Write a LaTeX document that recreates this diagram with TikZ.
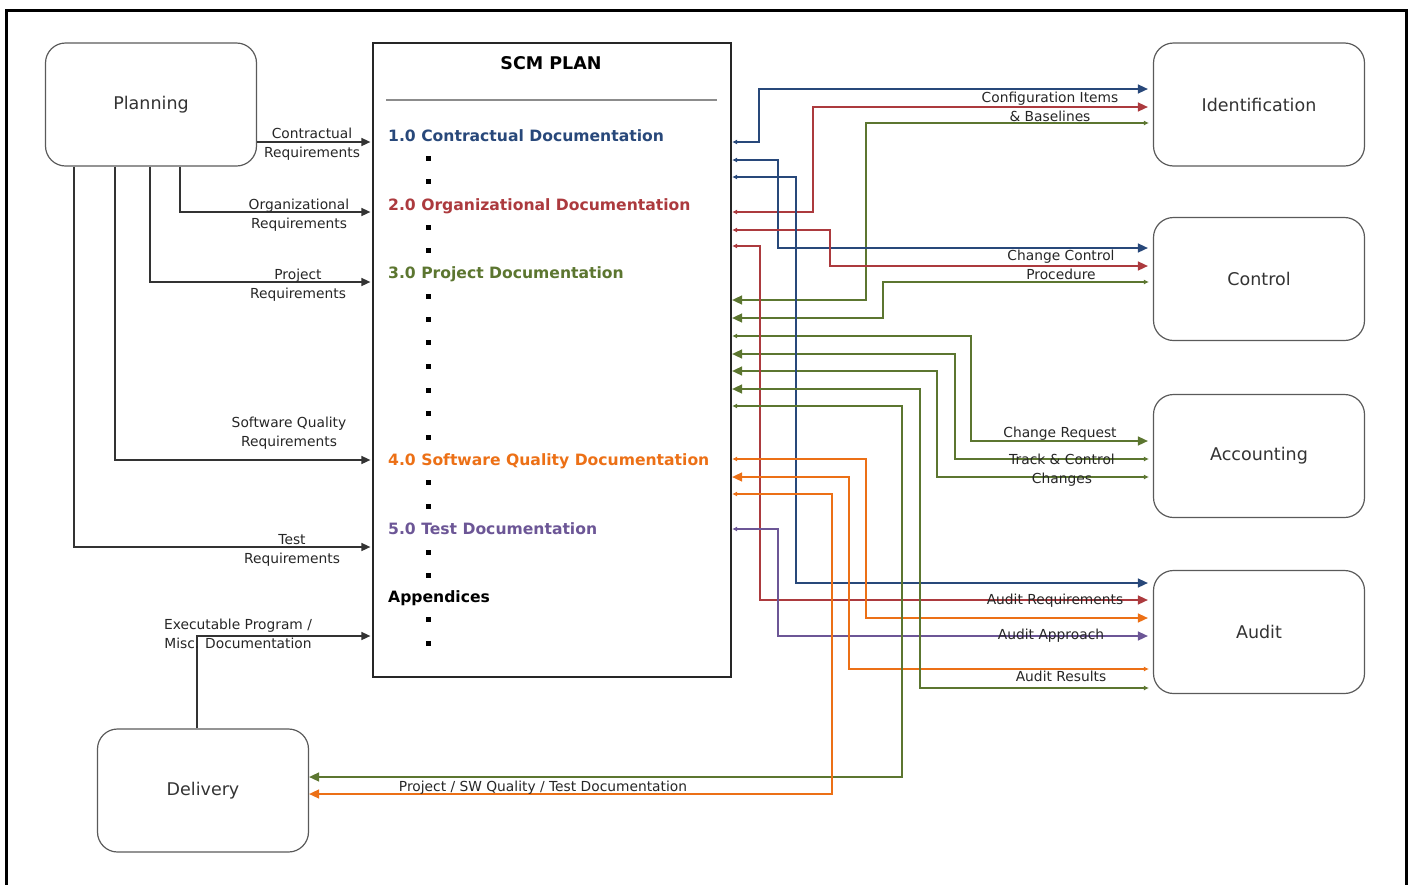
\documentclass[tikz,border=0pt]{standalone}
\usepackage{fontspec}
\setmainfont{DejaVu Sans}
\usetikzlibrary{arrows.meta}

\definecolor{docblue}{RGB}{40,72,122}
\definecolor{docred}{RGB}{172,58,62}
\definecolor{docgreen}{RGB}{92,118,48}
\definecolor{docorange}{RGB}{236,112,22}
\definecolor{docpurple}{RGB}{108,86,150}
\definecolor{boxline}{RGB}{90,90,90}

\tikzset{
  stage/.style={draw=boxline, line width=1.2pt, rounded corners=20pt,
                minimum width=211pt, minimum height=123pt,
                font=\fontsize{17.5}{20}\selectfont, text=black!80},
  flow/.style={line width=1.5pt},
  fwd/.style={arrows={Latex[length=5pt,width=5pt]-Triangle[length=10pt,width=9pt]}},
  back/.style={arrows={Triangle[length=10pt,width=9pt]-Latex[length=5pt,width=5pt]}},
  req/.style={draw=black!80, line width=1.5pt, -{Triangle[length=9pt,width=8pt]},
              shorten >=1.5pt},
  lbl/.style={font=\fontsize{13.8}{19}\selectfont, align=center, text=black!85,
              inner sep=0pt},
  head/.style={font=\fontsize{15.6}{18}\selectfont\bfseries, anchor=mid west,
               inner sep=0pt}
}

\begin{document}
\begin{tikzpicture}[x=1pt,y=-1pt]
    \useasboundingbox (0,0) rectangle (1409,884);
    \draw[line width=3pt] (6,890) -- (6,10) -- (1406,10) -- (1406,890);

    % boxes
    \node[stage] (plan) at (151,104.5) {Planning};
    \node[draw=black!85, line width=2.2pt, minimum width=358pt,
          minimum height=634pt] (scm) at (552,360) {};
    \node[stage] (ident) at (1259,104.5) {Identification};
    \node[stage] (ctrl) at (1259,279) {Control};
    \node[stage] (acct) at (1259,456) {Accounting};
    \node[stage] (audit) at (1259,632) {Audit};
    \node[stage] (deliv) at (203,790.5) {Delivery};

    % contents of the plan
    \node[font=\fontsize{17.5}{20}\selectfont\bfseries, anchor=mid] (title) at (551,67) {SCM PLAN};
    \draw[black!45, line width=2pt] (386,100) -- (717,100);
    \node[head, text=docblue] (sec1) at (388,139) {1.0 Contractual Documentation};
    \node[head, text=docred] (sec2) at (388,208) {2.0 Organizational Documentation};
    \node[head, text=docgreen] (sec3) at (388,276) {3.0 Project Documentation};
    \node[head, text=docorange] (sec4) at (388,463) {4.0 Software Quality Documentation};
    \node[head, text=docpurple] (sec5) at (388,532) {5.0 Test Documentation};
    \node[head] (appx) at (388,600) {Appendices};

    \fill (425.5,155.5) rectangle +(5,5);  \fill (425.5,178.5) rectangle +(5,5);
    \fill (425.5,224.5) rectangle +(5,5);  \fill (425.5,247.5) rectangle +(5,5);
    \fill (425.5,293.5) rectangle +(5,5);  \fill (425.5,316.5) rectangle +(5,5);
    \fill (425.5,339.5) rectangle +(5,5);  \fill (425.5,363.5) rectangle +(5,5);
    \fill (425.5,387.5) rectangle +(5,5);  \fill (425.5,410.5) rectangle +(5,5);
    \fill (425.5,434.5) rectangle +(5,5);
    \fill (425.5,479.5) rectangle +(5,5);  \fill (425.5,503.5) rectangle +(5,5);
    \fill (425.5,549.5) rectangle +(5,5);  \fill (425.5,572.5) rectangle +(5,5);
    \fill (425.5,616.5) rectangle +(5,5);  \fill (425.5,640.5) rectangle +(5,5);

    % requirements into the plan
    \draw[req] (plan.east |- 0,142) -- (scm.west |- 0,142);
    \draw[req] (plan.south -| 180,0) -- (180,212) -- (scm.west |- 0,212);
    \draw[req] (plan.south -| 150,0) -- (150,282) -- (scm.west |- 0,282);
    \draw[req] (plan.south -| 115,0) -- (115,460) -- (scm.west |- 0,460);
    \draw[req] (plan.south -| 74,0) -- (74,547) -- (scm.west |- 0,547);
    \draw[req] (deliv.north -| 197,0) -- (197,636) -- (scm.west |- 0,636);

    \node[lbl] (lcontr) at (312,144.5) {Contractual\\Requirements};
    \node[lbl] (lorg) at (299,215) {Organizational\\Requirements};
    \node[lbl] (lproj) at (298,285.5) {Project\\Requirements};
    \node[lbl] (lswq) at (289,433.5) {Software Quality\\Requirements};
    \node[lbl] (ltest) at (292,550.5) {Test\\Requirements};
    \node[lbl] (lexec) at (238,634) {Executable Program /\\Misc. Documentation};

    % identification
    \draw[flow, docblue, fwd, shorten >=5pt] (scm.east |- 0,142) -- (759,142) -- (759,89) -- (ident.west |- 0,89);
    \draw[flow, docred, fwd, shorten >=5pt] (scm.east |- 0,212) -- (813,212) -- (813,107) -- (ident.west |- 0,107);
    \draw[flow, docgreen, back, shorten >=4pt] (scm.east |- 0,300) -- (866,300) -- (866,123) -- (ident.west |- 0,123);

    % control
    \draw[flow, docblue, fwd, shorten >=5pt] (scm.east |- 0,160) -- (778,160) -- (778,248) -- (ctrl.west |- 0,248);
    \draw[flow, docred, fwd, shorten >=5pt] (scm.east |- 0,230) -- (830,230) -- (830,266) -- (ctrl.west |- 0,266);
    \draw[flow, docgreen, back, shorten >=4pt] (scm.east |- 0,318) -- (883,318) -- (883,282) -- (ctrl.west |- 0,282);

    % accounting
    \draw[flow, docgreen, fwd, shorten >=5pt] (scm.east |- 0,336) -- (971,336) -- (971,441) -- (acct.west |- 0,441);
    \draw[flow, docgreen, back, shorten >=4pt] (scm.east |- 0,354) -- (955,354) -- (955,459) -- (acct.west |- 0,459);
    \draw[flow, docgreen, back, shorten >=4pt] (scm.east |- 0,371) -- (937,371) -- (937,477) -- (acct.west |- 0,477);

    % audit
    \draw[flow, docblue, fwd, shorten >=5pt] (scm.east |- 0,177) -- (796,177) -- (796,583) -- (audit.west |- 0,583);
    \draw[flow, docred, fwd, shorten >=5pt] (scm.east |- 0,246) -- (760,246) -- (760,600) -- (audit.west |- 0,600);
    \draw[flow, docorange, fwd, shorten >=5pt] (scm.east |- 0,459) -- (866,459) -- (866,618) -- (audit.west |- 0,618);
    \draw[flow, docpurple, fwd, shorten >=5pt] (scm.east |- 0,529) -- (778,529) -- (778,636) -- (audit.west |- 0,636);
    \draw[flow, docorange, back, shorten >=4pt] (scm.east |- 0,477) -- (849,477) -- (849,669) -- (audit.west |- 0,669);
    \draw[flow, docgreen, back, shorten >=4pt] (scm.east |- 0,389) -- (920,389) -- (920,688) -- (audit.west |- 0,688);

    % delivery
    \draw[flow, docgreen, fwd] (scm.east |- 0,406) -- (902,406) -- (902,777) -- (deliv.east |- 0,777);
    \draw[flow, docorange, fwd] (scm.east |- 0,494) -- (832,494) -- (832,794) -- (deliv.east |- 0,794);

    \node[lbl] (lcfg) at (1050,106.5) {Configuration Items\\\& Baselines};
    \node[lbl] (lccp) at (1061,265) {Change Control\\Procedure};
    \node[lbl, anchor=mid] (lcr) at (1060,435) {Change Request};
    \node[lbl] (ltrack) at (1062,470.5) {Track \& Control\\Changes};
    \node[lbl, anchor=mid] (lareq) at (1055,602) {Audit Requirements};
    \node[lbl, anchor=mid] (lappr) at (1051,637) {Audit Approach};
    \node[lbl, anchor=mid] (lres) at (1061,679) {Audit Results};
    \node[lbl, anchor=mid] (ldoc) at (543,789) {Project / SW Quality / Test Documentation};
  \end{tikzpicture}
\end{document}
